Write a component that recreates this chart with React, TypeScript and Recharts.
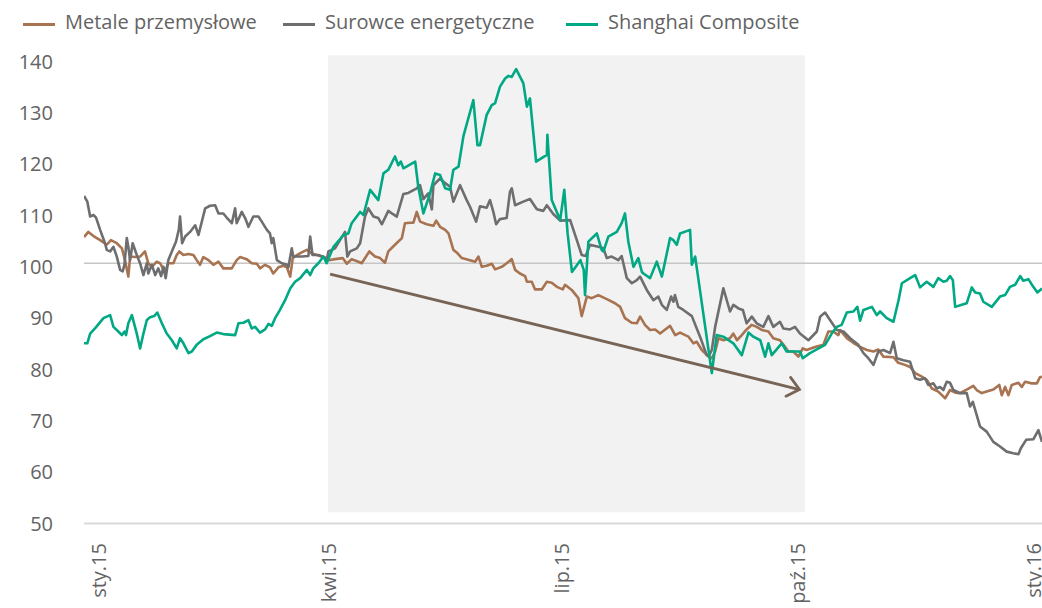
import React from 'react';
import { LineChart, Line, XAxis, YAxis, ReferenceArea, ReferenceLine, Legend } from 'recharts';

const xTickDays = [0, 90, 181, 273, 365];
const xTickLabels = ['sty.15', 'kwi.15', 'lip.15', 'paź.15', 'sty.16'];
const yTicks = [50, 60, 70, 80, 90, 100, 110, 120, 130, 140];
const seriesNames = ['Metale przemysłowe', 'Surowce energetyczne', 'Shanghai Composite'];
const seriesColors = ['#A87350', '#6E6E70', '#00A884'];
const arrowColor = '#786455';

// [day since 1 Jan 2015, index value]
const metale: [number, number][] = [[-5.5,105.8],[-3.8,106.8],[-1.8,106.0],[0.8,105.2],[3.4,104.3],[5.0,105.2],[7.3,104.6],[9.3,103.6],[10.5,101.3],[11.8,98.1],[12.5,102.0],[14.4,101.9],[16.4,102.0],[18.3,103.0],[19.6,100.7],[21.0,100.0],[22.9,101.0],[24.2,100.7],[25.3,99.7],[26.5,99.5],[27.4,100.7],[29.4,100.7],[30.7,102.3],[31.7,103.0],[33.3,102.3],[35.3,102.5],[37.2,102.3],[38.5,101.3],[39.8,100.4],[41.1,101.9],[43.1,101.3],[45.0,100.4],[47.0,101.0],[48.9,99.7],[52.2,99.7],[54.1,101.3],[55.4,101.9],[58.0,101.5],[60.0,100.7],[62.0,100.6],[63.2,99.7],[65.2,100.4],[67.1,99.9],[68.4,98.7],[70.4,99.9],[72.3,100.2],[73.7,99.9],[75.0,98.1],[76.0,101.7],[77.6,102.3],[79.5,102.8],[81.5,103.3],[83.4,102.6],[85.4,102.3],[87.3,102.0],[89.3,101.7],[89.9,101.3],[92.5,101.5],[95.5,101.7],[97.1,100.6],[99.0,101.5],[101.6,101.0],[102.9,100.7],[105.9,103.0],[108.1,102.0],[110.1,101.7],[112.0,100.8],[113.3,103.0],[115.9,104.3],[118.6,105.6],[119.8,108.5],[121.8,108.6],[123.1,108.6],[124.4,110.7],[125.7,108.8],[128.3,108.3],[130.9,108.0],[132.0,109.0],[133.5,107.8],[135.5,107.2],[136.8,106.5],[138.7,103.3],[140.0,102.8],[142.0,101.7],[145.2,101.3],[147.2,101.0],[148.5,102.0],[149.8,100.0],[151.7,100.2],[153.7,100.6],[155.0,99.5],[157.6,100.0],[159.5,100.7],[161.5,101.5],[162.8,99.4],[164.7,98.7],[166.7,98.2],[167.4,97.1],[169.3,97.1],[170.6,95.6],[173.2,95.6],[175.2,97.1],[177.1,96.9],[179.1,96.1],[181.4,95.6],[182.3,96.5],[184.9,95.5],[187.5,93.9],[188.8,90.4],[190.8,94.2],[192.7,93.9],[195.3,94.5],[198.6,93.7],[201.8,92.9],[203.8,92.2],[205.7,90.0],[208.3,89.1],[210.3,89.0],[211.6,90.3],[213.5,88.7],[215.5,87.7],[217.5,87.8],[219.4,87.0],[221.4,87.8],[223.3,88.5],[225.3,86.7],[227.2,87.2],[229.2,86.7],[230.5,86.4],[232.4,85.1],[233.7,85.4],[235.7,83.8],[238.3,82.5],[239.6,82.2],[240.9,83.5],[242.2,86.1],[244.1,85.7],[246.7,86.1],[248.0,87.0],[249.4,85.7],[251.3,86.7],[253.2,87.8],[255.2,88.7],[257.1,88.3],[259.1,87.7],[261.7,87.4],[263.6,86.1],[266.2,85.7],[268.2,84.4],[269.5,83.5],[271.4,83.5],[273.4,82.5],[275.1,84.1],[276.6,83.8],[279.9,84.4],[283.1,84.8],[285.1,87.4],[287.0,87.4],[289.0,86.7],[289.7,87.7],[292.3,86.1],[294.8,85.2],[297.5,84.4],[300.1,83.8],[302.7,83.5],[304.6,83.9],[306.6,82.5],[310.5,82.4],[312.4,81.3],[315.0,80.9],[317.0,80.5],[319.0,79.3],[321.6,78.6],[323.5,78.0],[325.5,76.3],[328.0,75.7],[330.7,74.4],[332.6,76.0],[334.6,75.5],[336.5,75.4],[339.1,76.1],[341.7,76.8],[343.0,76.0],[345.0,75.4],[346.9,75.7],[349.5,76.1],[351.8,77.0],[352.8,75.0],[354.1,76.6],[355.4,75.0],[356.7,77.0],[359.3,77.4],[360.6,76.6],[361.9,77.6],[364.5,77.3],[366.5,77.3],[367.7,78.5],[368.5,78.6]];

const surowce: [number, number][] = [[-5.5,113.8],[-4.2,112.7],[-3.1,109.8],[-1.8,110.1],[-0.8,109.6],[0.8,107.2],[2.7,104.6],[3.4,103.3],[4.7,103.0],[6.0,103.9],[7.3,102.0],[8.6,99.4],[9.6,99.1],[10.3,100.4],[11.2,105.6],[11.8,103.9],[12.5,101.3],[13.5,104.6],[15.1,102.3],[16.4,100.7],[17.7,98.4],[19.0,100.7],[19.6,98.7],[21.0,100.4],[22.3,98.4],[23.5,99.7],[24.6,98.2],[25.5,100.0],[26.4,97.8],[27.4,101.3],[28.8,103.0],[30.4,104.9],[31.5,107.2],[32.0,109.8],[32.8,104.6],[34.0,105.9],[35.9,106.8],[37.9,108.1],[39.2,106.2],[41.8,111.4],[43.7,111.9],[45.7,112.0],[47.0,110.4],[48.9,110.4],[50.2,109.6],[52.2,108.5],[53.5,111.4],[54.1,108.5],[56.1,110.7],[57.4,109.5],[58.7,107.8],[60.6,109.8],[62.6,109.8],[63.9,108.8],[65.9,107.2],[67.1,106.5],[67.8,104.6],[68.4,105.6],[69.8,101.3],[71.7,100.7],[73.7,100.4],[74.3,99.9],[75.6,103.6],[76.2,102.0],[77.6,102.0],[79.5,102.0],[82.1,102.1],[82.8,105.9],[83.7,102.3],[86.0,102.3],[88.0,101.9],[89.3,101.3],[89.9,103.0],[92.5,103.6],[96.4,106.8],[97.3,102.0],[98.4,103.0],[101.0,103.6],[102.3,104.6],[104.2,109.8],[105.5,111.4],[107.5,109.8],[109.4,109.5],[110.8,108.3],[113.3,110.9],[114.7,110.4],[116.6,109.8],[119.2,114.2],[121.1,114.4],[124.4,115.3],[125.7,115.9],[127.0,113.2],[128.9,114.3],[130.3,111.2],[130.9,115.9],[133.5,117.2],[135.5,116.3],[137.4,115.6],[138.7,112.7],[141.3,115.9],[143.9,113.0],[145.2,111.7],[147.6,108.8],[149.1,111.8],[151.7,111.5],[153.0,113.0],[154.3,110.7],[155.4,108.3],[156.9,109.3],[159.5,109.5],[160.8,114.6],[161.5,115.3],[162.8,112.0],[166.0,112.7],[168.6,113.2],[171.3,111.2],[173.8,110.9],[175.2,112.0],[177.7,110.3],[180.4,109.0],[184.3,109.1],[186.9,105.2],[188.8,102.3],[190.4,102.1],[192.0,104.3],[195.3,103.9],[197.3,103.6],[198.6,101.7],[200.5,102.0],[203.1,101.3],[204.4,102.1],[206.4,97.8],[208.4,96.8],[210.3,97.4],[211.6,98.1],[214.2,95.5],[216.8,93.5],[218.7,94.2],[220.1,92.6],[222.0,91.6],[223.7,94.2],[224.6,93.2],[225.2,94.5],[226.5,92.2],[228.5,91.6],[231.8,90.4],[235.0,86.4],[237.6,82.8],[238.6,82.8],[239.6,83.8],[240.9,88.3],[244.1,95.8],[246.7,91.3],[248.0,92.6],[250.0,91.9],[251.7,91.6],[253.2,89.0],[255.2,90.3],[257.1,89.0],[259.7,88.3],[261.7,90.4],[263.6,88.3],[266.2,89.3],[267.5,88.0],[270.1,87.8],[272.1,88.3],[274.0,87.0],[277.3,85.7],[280.6,87.4],[281.9,90.3],[283.8,91.1],[285.8,89.6],[288.4,87.7],[291.0,87.4],[293.6,86.1],[296.8,84.8],[298.8,83.2],[300.7,82.2],[302.7,80.9],[304.6,83.5],[306.6,83.8],[309.2,83.2],[310.5,85.4],[311.8,82.2],[314.4,81.8],[317.0,81.5],[319.0,78.3],[320.9,78.0],[322.8,78.3],[324.1,77.0],[326.1,77.3],[327.4,76.3],[328.7,76.6],[330.0,76.0],[331.3,77.6],[332.6,77.4],[333.9,76.0],[336.5,75.4],[339.1,75.4],[340.4,72.8],[341.5,73.7],[344.3,68.9],[346.9,67.9],[349.5,65.9],[352.1,65.0],[354.7,64.0],[357.3,63.7],[359.3,63.5],[360.2,64.6],[362.3,66.3],[365.1,66.4],[367.1,68.2],[368.5,65.9]];

const shanghai: [number, number][] = [[-5.5,85.1],[-4.2,85.1],[-3.1,87.0],[-1.2,88.0],[2.1,90.0],[4.7,90.6],[6.0,88.3],[7.9,87.4],[9.3,86.7],[10.3,87.4],[10.9,86.7],[11.8,89.0],[13.2,90.6],[15.1,87.0],[16.4,84.1],[17.7,87.0],[19.0,89.6],[20.3,90.2],[21.9,90.4],[23.1,91.1],[24.9,89.0],[26.8,87.0],[28.8,85.7],[30.7,84.1],[32.0,86.1],[33.3,85.1],[35.3,83.2],[36.6,83.5],[38.5,84.8],[41.1,85.9],[43.7,86.5],[46.3,87.2],[48.9,86.9],[53.5,86.7],[54.8,89.0],[56.7,89.1],[58.7,89.6],[60.0,88.0],[61.3,88.3],[63.2,87.2],[65.2,87.8],[66.5,88.9],[67.8,88.5],[69.1,90.0],[71.0,91.6],[73.0,93.5],[75.0,95.8],[76.9,97.1],[78.9,97.8],[81.5,99.4],[82.8,98.4],[84.0,99.7],[86.0,100.7],[88.0,102.0],[89.2,100.7],[91.9,103.9],[95.8,106.2],[97.7,106.5],[99.0,108.5],[102.3,110.7],[103.6,110.1],[106.2,115.0],[109.4,113.0],[111.4,118.2],[113.3,118.9],[115.9,121.5],[117.2,119.8],[118.2,120.5],[119.2,119.2],[123.8,120.5],[125.0,115.6],[127.0,110.4],[129.6,114.3],[131.6,118.2],[133.5,117.9],[135.5,115.3],[137.4,115.0],[138.7,118.9],[140.7,119.5],[142.6,125.4],[146.5,132.5],[148.1,123.7],[149.1,123.7],[151.7,129.6],[153.7,131.5],[155.0,131.9],[156.9,135.1],[158.9,136.7],[160.2,137.2],[161.5,137.0],[163.2,138.5],[166.0,135.8],[167.4,131.2],[168.6,132.8],[171.0,120.5],[175.2,121.8],[175.4,125.7],[177.1,113.0],[180.4,109.1],[182.0,115.0],[183.3,106.5],[185.0,99.0],[188.3,101.3],[189.6,99.4],[190.1,94.5],[191.4,104.9],[194.7,106.5],[196.6,103.3],[197.3,103.0],[199.2,105.9],[202.5,106.8],[204.4,108.5],[205.7,110.4],[207.0,104.9],[209.0,100.0],[210.9,101.7],[212.3,99.0],[212.9,98.7],[215.5,97.8],[218.1,101.0],[220.1,98.1],[223.3,105.6],[224.6,105.2],[225.9,104.3],[227.2,106.5],[231.1,107.2],[231.8,100.4],[233.1,102.0],[239.6,79.3],[241.5,86.7],[244.1,86.4],[248.0,85.1],[251.3,82.8],[253.9,87.2],[255.8,86.4],[258.5,85.7],[260.4,82.5],[261.7,85.1],[263.0,82.8],[266.9,85.1],[268.8,83.5],[271.4,83.5],[274.0,83.5],[275.1,82.2],[277.9,83.2],[283.8,84.8],[286.4,87.0],[288.4,88.3],[290.3,88.7],[292.3,91.1],[294.9,91.3],[296.4,92.2],[297.5,89.5],[298.8,91.6],[302.1,92.2],[304.0,90.6],[305.3,91.3],[307.9,90.0],[310.5,89.3],[312.5,93.5],[313.8,96.8],[317.0,97.8],[319.0,98.4],[320.9,96.0],[323.5,97.1],[326.1,96.1],[328.0,97.8],[330.0,97.1],[331.3,97.3],[332.6,98.2],[333.7,97.4],[334.6,92.2],[337.2,92.6],[339.1,92.9],[341.1,96.0],[342.4,95.0],[344.3,94.8],[345.6,93.2],[348.9,92.2],[352.1,94.2],[354.1,94.5],[356.0,96.1],[358.0,96.5],[360.0,98.2],[361.2,97.3],[363.2,97.6],[365.1,96.1],[366.7,95.0],[368.5,95.8]];

const shadeRange = { x1: 89.8, x2: 276.0, y1: 52.2, y2: 141.2 };
const baselineValue = 100.7;
const trendFrom = { x: 90.6, y: 98.6 };
const trendTo = { x: 273.8, y: 76.1 };

const toRows = (pairs: [number, number][]) => pairs.map(([d, v]) => ({ d, v }));
const seriesData = [toRows(metale), toRows(surowce), toRows(shanghai)];

const FONT = "'Open Sans', sans-serif";
const TEXT = '#636363';

const XTick = (props: any) => {
  const { x, y, payload } = props;
  const i = xTickDays.indexOf(payload.value);
  const ty = y + 19.5;
  return (
    <text x={x} y={ty} transform={`rotate(-90 ${x} ${ty})`} textAnchor="end" dominantBaseline="central"
      fill={TEXT} fontSize={20} fontFamily={FONT}>
      {xTickLabels[i]}
    </text>
  );
};

const ArrowShape = (props: any) => {
  const { x1, y1, x2, y2 } = props;
  const dx = x2 - x1, dy = y2 - y1;
  const len = Math.sqrt(dx * dx + dy * dy) || 1;
  const ux = dx / len, uy = dy / len;
  const L = 15, a = (40 * Math.PI) / 180;
  const w1x = x2 - L * (ux * Math.cos(a) - uy * Math.sin(a));
  const w1y = y2 - L * (ux * Math.sin(a) + uy * Math.cos(a));
  const w2x = x2 - L * (ux * Math.cos(-a) - uy * Math.sin(-a));
  const w2y = y2 - L * (ux * Math.sin(-a) + uy * Math.cos(-a));
  return (
    <g>
      <line x1={x1} y1={y1} x2={x2} y2={y2} stroke={arrowColor} strokeWidth={2.8} />
      <polyline points={`${w1x},${w1y} ${x2},${y2} ${w2x},${w2y}`} fill="none" stroke={arrowColor}
        strokeWidth={2.8} strokeLinecap="round" strokeLinejoin="miter" />
    </g>
  );
};

const legendLefts = [23, 283, 566];

const LegendBox = () => (
  <div style={{ position: 'relative', height: 44, width: 1042, fontFamily: FONT }}>
    {seriesNames.map((n, i) => (
      <div key={n} style={{ position: 'absolute', left: legendLefts[i], top: 0, height: 44 }}>
        <div style={{ position: 'absolute', left: 0, top: 22.5, width: 32, height: 3, background: seriesColors[i] }} />
        <div style={{ position: 'absolute', left: 42, top: 8, fontSize: 20, lineHeight: '28px', color: TEXT, whiteSpace: 'nowrap' }}>{n}</div>
      </div>
    ))}
  </div>
);

export default function App() {
  return (
    <div style={{ position: 'absolute', left: 0, top: 0, width: 1042, height: 608, background: '#fff', fontFamily: FONT }}>
      <LineChart width={1042} height={608} margin={{ top: 17.5, right: 0, bottom: 0, left: 0 }}>
        <Legend verticalAlign="top" align="left" content={() => <LegendBox />} wrapperStyle={{ top: 0, left: 0 }} />
        <XAxis type="number" dataKey="d" domain={[-5.5, 368.5]} ticks={xTickDays} interval={0} allowDataOverflow
          tick={<XTick />} tickLine={false} tickSize={0} tickMargin={0} height={84.5}
          axisLine={{ stroke: '#D9D9D9', strokeWidth: 2 }} />
        <YAxis type="number" domain={[50, 140]} ticks={yTicks} interval={0} axisLine={false} tickLine={false}
          tickSize={0} tickMargin={31} width={84}
          tick={{ fill: TEXT, fontSize: 20, fontFamily: FONT }} />
        <ReferenceArea x1={shadeRange.x1} x2={shadeRange.x2} y1={shadeRange.y1} y2={shadeRange.y2}
          fill="#F2F2F2" fillOpacity={1} stroke="none" ifOverflow="visible" />
        <ReferenceLine y={baselineValue} stroke="#C6C6C6" strokeWidth={1.3} />
        {seriesData.map((rows, i) => (
          <Line key={seriesNames[i]} data={rows} dataKey="v" name={seriesNames[i]} type="linear"
            stroke={seriesColors[i]} strokeWidth={2.6} dot={false} activeDot={false}
            isAnimationActive={false} strokeLinejoin="round" />
        ))}
        <ReferenceLine segment={[trendFrom, trendTo]} shape={<ArrowShape />} ifOverflow="visible" />
      </LineChart>
    </div>
  );
}
